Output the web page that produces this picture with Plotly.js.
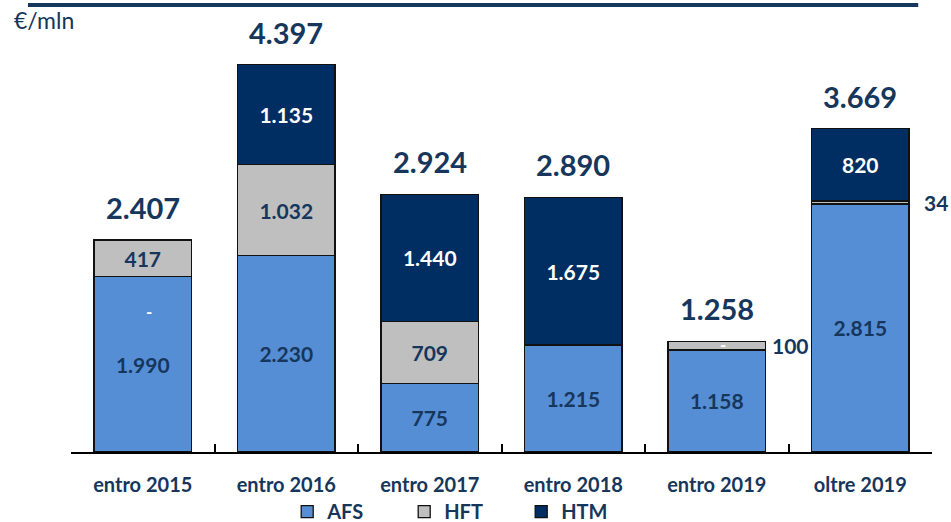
<!DOCTYPE html>
<html>
<head>
<meta charset="utf-8">
<script src="https://cdn.plot.ly/plotly-3.0.1.min.js"></script>
<style>
  html, body { margin: 0; padding: 0; background: #fff; }
  #chart { width: 951px; height: 522px; }
</style>
</head>
<body>
<div id="chart"></div>
<script>
const categories = ['entro 2015', 'entro 2016', 'entro 2017', 'entro 2018', 'entro 2019', 'oltre 2019'];
const afs = [1990, 2230, 775, 1215, 1158, 2815];
const hft = [417, 1032, 709, 0, 100, 34];
const htm = [0, 1135, 1440, 1675, 0, 820];
const totals = [2407, 4397, 2924, 2890, 1258, 3669];

// labels shown inside the segments ('' where the segment is too thin or empty)
const afsText = ['1.990', '2.230', '775', '1.215', '1.158', '2.815'];
const hftText = ['417', '1.032', '709', '', '', ''];
const htmText = ['', '1.135', '1.440', '1.675', '', '820'];
const totalText = ['2.407', '4.397', '2.924', '2.890', '1.258', '3.669'];

// small outside labels and the white "-" zero markers
const outsideCats = ['entro 2019', 'oltre 2019'];
const outsideY = [1208, 2832];
const outsideText = ['100', '34'];
const outsideShift = [53, 62];
const dashCats = ['entro 2015', 'entro 2019'];
const dashY = [1600, 1215];

const navy = '#16365C';
const font = 'Lato, "Open Sans", sans-serif';

function barTrace(name, values, labels, color, textColor) {
    return {
        type: 'bar', name: name, x: categories, y: values,
        text: labels, textposition: 'inside', insidetextanchor: 'middle',
        constraintext: 'none',
        textfont: { family: font, size: 21, color: textColor, weight: 'bold' },
        marker: { color: color, line: { color: '#111', width: 1.3 } },
        hoverinfo: 'x+y'
    };
}

const data = [
    barTrace('AFS', afs, afsText, '#558ED5', navy),
    barTrace('HFT', hft, hftText, '#BFBFBF', navy),
    barTrace('HTM', htm, htmText, '#002D62', '#ffffff')
];

const annotations = [];
categories.forEach((c, i) => {
    annotations.push({
        x: c, y: totals[i], text: '<b>' + totalText[i] + '</b>', showarrow: false,
        yanchor: 'bottom', yshift: 13, font: { family: font, size: 29, color: navy }
    });
});
outsideCats.forEach((c, i) => {
    annotations.push({
        x: c, y: outsideY[i], text: '<b>' + outsideText[i] + '</b>', showarrow: false,
        xanchor: 'left', xshift: outsideShift[i], font: { family: font, size: 21, color: navy }
    });
});
dashCats.forEach((c, i) => {
    annotations.push({
        x: c, y: dashY[i], text: '<b>-</b>', showarrow: false, xshift: 6,
        font: { family: font, size: 17, color: '#ffffff' }
    });
});
annotations.push({
    xref: 'paper', yref: 'paper', x: -0.068, y: 1.0, xanchor: 'left', yanchor: 'middle',
    text: '€/mln', showarrow: false, font: { family: font, size: 23, color: navy }
});

const layout = {
    width: 951, height: 522,
    margin: { l: 71, r: 19, t: 20, b: 70, autoexpand: false },
    paper_bgcolor: '#ffffff', plot_bgcolor: '#ffffff',
    barmode: 'stack', bargap: 0.32,
    showlegend: true,
    legend: {
        orientation: 'h', xref: 'container', yref: 'container',
        x: 0.302, xanchor: 'left', y: 0.02, yanchor: 'middle',
        bgcolor: 'rgba(0,0,0,0)',
        font: { family: font, size: 20, color: navy, weight: 'bold' },
        entrywidth: 72, entrywidthmode: 'pixels', traceorder: 'normal'
    },
    xaxis: {
        automargin: false, range: [-0.5, categories.length - 0.5],
        showline: true, linecolor: '#000', linewidth: 2,
        ticks: 'inside', tickson: 'boundaries', ticklen: 8, tickcolor: '#000', tickwidth: 2,
        ticklabelstandoff: 14,
        tickfont: { family: font, size: 20, color: navy, weight: 'bold' },
        showgrid: false, zeroline: false
    },
    yaxis: {
        range: [0, 4903], visible: false, showgrid: false, zeroline: false
    },
    shapes: [{
        type: 'line', xref: 'paper', yref: 'paper',
        x0: -0.05, x1: 0.984, y0: 1.035, y1: 1.035,
        line: { color: '#16365C', width: 4 }
    }],
    annotations: annotations
};

Plotly.newPlot('chart', data, layout, { displayModeBar: false, staticPlot: true });
</script>
</body>
</html>
